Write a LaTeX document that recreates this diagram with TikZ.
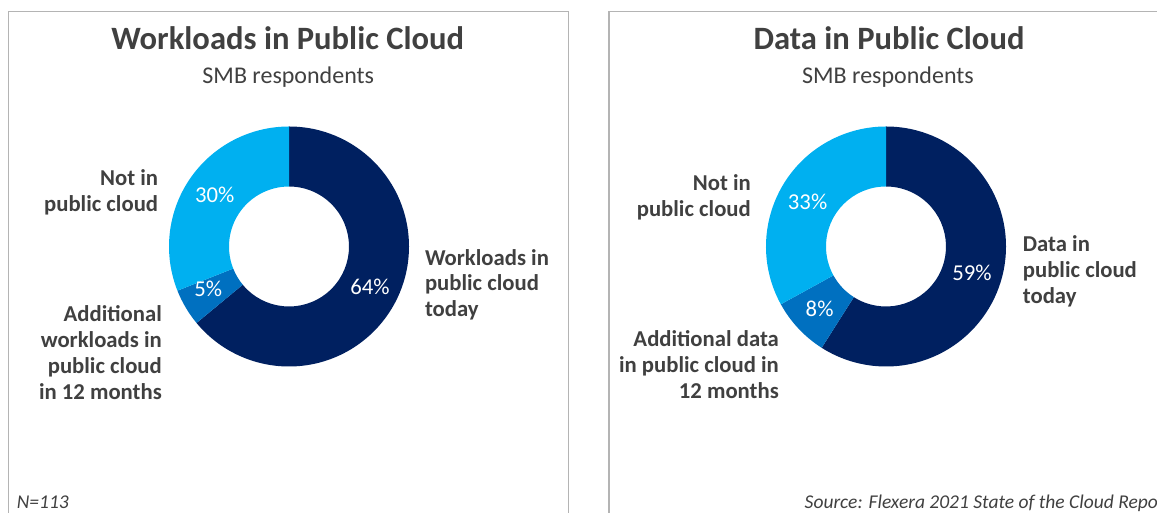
\documentclass[tikz,border=0pt]{standalone}
\usepackage{fontspec}
\setmainfont{Carlito}
\usepackage{tikz}
\usetikzlibrary{calc}
\usetikzlibrary{positioning}
\definecolor{navy}{RGB}{0,32,96}
\definecolor{midblue}{RGB}{0,112,192}
\definecolor{lightblue}{RGB}{0,176,240}
\definecolor{textgray}{RGB}{64,64,64}
\definecolor{panelgray}{RGB}{180,180,180}
\tikzset{>=stealth}

\begin{document}
\begin{tikzpicture}[
        x=1pt, y=1pt,
        every node/.style={inner sep=0pt,text=textgray},
        title/.style={anchor=base,font=\fontsize{32.6}{38}\selectfont\bfseries},
        subtitle/.style={anchor=base,font=\fontsize{24}{28}\selectfont},
        lbl/.style={font=\fontsize{22.7}{25.8}\selectfont\bfseries},
        pct/.style={text=white,font=\fontsize{22.7}{26}\selectfont},
        note/.style={anchor=base west,font=\fontsize{19.5}{22}\selectfont\itshape},
        panel/.style={draw=panelgray,line width=1.3pt}
    ]
    \useasboundingbox (0,0) rectangle (1157,513);

    % left panel: workloads
    \draw[panel] (8.5,-5) rectangle (568.3,501.3);
    \node[title]    (wtitle) at (287.7,463.7) {Workloads in Public Cloud};
    \node[subtitle] (wsub)   at (288.3,429.7) {SMB respondents};
    \coordinate (wl) at (289,266.5);
    \foreach \a/\b/\c in {90/-140.4/navy, -140.4/-158.4/midblue, -158.4/-270/lightblue}
        \fill[\c] ($(wl)+(\a:120)$) arc[start angle=\a, end angle=\b, radius=120]
            -- ($(wl)+(\b:60)$) arc[start angle=\b, end angle=\a, radius=60] -- cycle;
    \node[pct] (wnot)   at (214.7,318)   {30\%};
    \node[pct] (wadd)   at (208.3,223.7) {5\%};
    \node[pct] (wtoday) at (370,226.3)   {64\%};
    % base anchor sits on the last line
    \node[lbl,align=right,anchor=base east] (wnotlbl) at (158.3,301.3) {Not in\\public cloud};
    \node[lbl,align=left,anchor=base west] (wtodaylbl) at (424.8,196.3) {Workloads in\\public cloud\\today};
    \node[lbl,align=right,anchor=base east] (waddlbl) at (162,113.7) {Additional\\workloads in\\public cloud\\in 12 months};
    \node[note] (n) at (16.7,4.7) {N=113};

    % right panel: data
    \draw[panel] (609,-5) rectangle (1170,501.3);
    \node[title]    (dtitle) at (889,463.7) {Data in Public Cloud};
    \node[subtitle] (dsub)   at (888,429.7) {SMB respondents};
    \coordinate (dl) at (886,266.5);
    \foreach \a/\b/\c in {90/-122.4/navy, -122.4/-151.2/midblue, -151.2/-270/lightblue}
        \fill[\c] ($(dl)+(\a:120)$) arc[start angle=\a, end angle=\b, radius=120]
            -- ($(dl)+(\b:60)$) arc[start angle=\b, end angle=\a, radius=60] -- cycle;
    \node[pct] (dnot)   at (807.6,311.3) {33\%};
    \node[pct] (dadd)   at (819.6,203.7) {8\%};
    \node[pct] (dtoday) at (972,240.3)   {59\%};
    \node[lbl,align=right,anchor=base east] (dnotlbl) at (751,296.3) {Not in\\public cloud};
    \node[lbl,align=left,anchor=base west] (dtodaylbl) at (1022.7,209.7) {Data in\\public cloud\\today};
    \node[lbl,align=right,anchor=base east] (daddlbl) at (779,114.7) {Additional data\\in public cloud in\\12 months};
    \node[note] (src) at (804.5,4.7) {Source: Flexera 2021 State of the Cloud Report};
\end{tikzpicture}
\end{document}
